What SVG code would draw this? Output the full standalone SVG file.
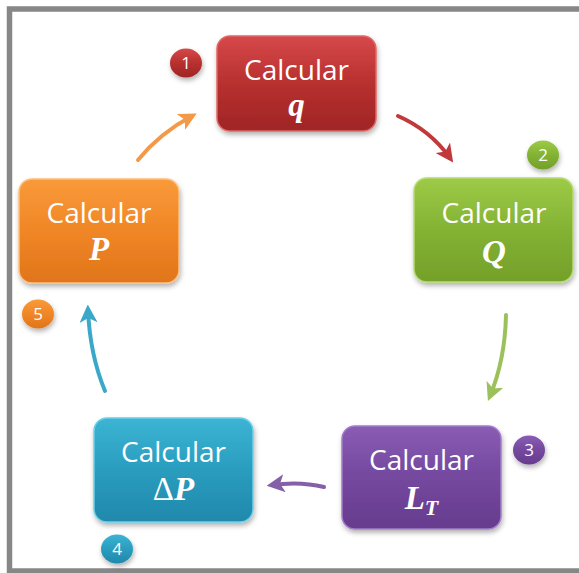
<svg xmlns="http://www.w3.org/2000/svg" width="579" height="573" viewBox="0 0 579 573">
<style>
.lbl{font-family:"Open Sans","Liberation Sans",sans-serif;font-size:28px;fill:#fff;text-anchor:middle}
.var{font-family:"Liberation Serif","DejaVu Serif",serif;font-size:33px;font-weight:bold;font-style:italic;fill:#fff;text-anchor:middle}
.num{font-family:"Open Sans","Liberation Sans",sans-serif;font-size:17px;fill:#fff;text-anchor:middle}
.box{stroke-width:1.5}
.conn{fill:none;stroke-width:4;stroke-linecap:round}
</style>
<defs>
<filter id="sh" x="-20%" y="-20%" width="140%" height="150%">
<feDropShadow dx="1" dy="3" stdDeviation="2.5" flood-color="#000" flood-opacity="0.3"/>
</filter>
<linearGradient id="gR" x1="0" y1="0" x2="0" y2="1"><stop offset="0" stop-color="#d6484a"/><stop offset="0.5" stop-color="#b8302f"/><stop offset="1" stop-color="#a02525"/></linearGradient>
<linearGradient id="gG" x1="0" y1="0" x2="0" y2="1"><stop offset="0" stop-color="#9dcb47"/><stop offset="0.5" stop-color="#83b234"/><stop offset="1" stop-color="#74a02a"/></linearGradient>
<linearGradient id="gP" x1="0" y1="0" x2="0" y2="1"><stop offset="0" stop-color="#8a5cb4"/><stop offset="0.5" stop-color="#74489e"/><stop offset="1" stop-color="#663c8e"/></linearGradient>
<linearGradient id="gB" x1="0" y1="0" x2="0" y2="1"><stop offset="0" stop-color="#3cb4d4"/><stop offset="0.5" stop-color="#2a9dbf"/><stop offset="1" stop-color="#2088ab"/></linearGradient>
<linearGradient id="gO" x1="0" y1="0" x2="0" y2="1"><stop offset="0" stop-color="#f99a3a"/><stop offset="0.5" stop-color="#f08626"/><stop offset="1" stop-color="#e0751a"/></linearGradient>
<marker id="aR" viewBox="0 0 10 10" refX="7" refY="5" markerWidth="4.5" markerHeight="4.5" orient="auto"><path d="M0,0 L10,5 L0,10 L2.5,5 Z" fill="#c0393b"/></marker>
<marker id="aG" viewBox="0 0 10 10" refX="7" refY="5" markerWidth="4.5" markerHeight="4.5" orient="auto"><path d="M0,0 L10,5 L0,10 L2.5,5 Z" fill="#9cc05a"/></marker>
<marker id="aP" viewBox="0 0 10 10" refX="7" refY="5" markerWidth="4.5" markerHeight="4.5" orient="auto"><path d="M0,0 L10,5 L0,10 L2.5,5 Z" fill="#8460a8"/></marker>
<marker id="aB" viewBox="0 0 10 10" refX="7" refY="5" markerWidth="4.5" markerHeight="4.5" orient="auto"><path d="M0,0 L10,5 L0,10 L2.5,5 Z" fill="#3aa8c8"/></marker>
<marker id="aO" viewBox="0 0 10 10" refX="7" refY="5" markerWidth="4.5" markerHeight="4.5" orient="auto"><path d="M0,0 L10,5 L0,10 L2.5,5 Z" fill="#f39a48"/></marker>
</defs>
<rect width="579" height="573" fill="#fff"/>
<rect x="9.5" y="9" width="580" height="562" fill="none" stroke="#878787" stroke-width="5.5"/>

<g id="connectors">
<path class="conn" d="M398,116 Q430,130 450,158" stroke="#c0393b" marker-end="url(#aR)"/>
<path class="conn" d="M506,315 Q505,360 490,396" stroke="#9cc05a" marker-end="url(#aG)"/>
<path class="conn" d="M324,487 Q300,481 272,485" stroke="#8460a8" marker-end="url(#aP)"/>
<path class="conn" d="M105,391 Q90,355 88,310" stroke="#3aa8c8" marker-end="url(#aB)"/>
<path class="conn" d="M138,160 Q160,133 192,116" stroke="#f39a48" marker-end="url(#aO)"/>
</g>

<g id="node1">
<rect class="box" x="217" y="36" width="159" height="95" rx="13" fill="url(#gR)" stroke="#e06868" filter="url(#sh)"/>
<text class="lbl" x="296.5" y="80">Calcular</text>
<text class="var" x="296.5" y="116">q</text>
</g>
<g id="badge1"><ellipse cx="186" cy="63" rx="16" ry="14.5" fill="url(#gR)" filter="url(#sh)"/><text class="num" x="186" y="69">1</text></g>

<g id="node2">
<rect class="box" x="414" y="178" width="159" height="104" rx="13" fill="url(#gG)" stroke="#b4dc70" filter="url(#sh)"/>
<text class="lbl" x="494" y="223">Calcular</text>
<text class="var" x="494" y="263">Q</text>
</g>
<g id="badge2"><ellipse cx="543" cy="155" rx="16" ry="14.5" fill="url(#gG)" filter="url(#sh)"/><text class="num" x="543" y="161">2</text></g>

<g id="node3">
<rect class="box" x="342" y="426" width="159" height="103" rx="13" fill="url(#gP)" stroke="#a27cc8" filter="url(#sh)"/>
<text class="lbl" x="421.5" y="470">Calcular</text>
<text class="var" x="421.5" y="509">L<tspan font-size="22" dy="6">T</tspan></text>
</g>
<g id="badge3"><ellipse cx="529" cy="450" rx="16" ry="14.5" fill="url(#gP)" filter="url(#sh)"/><text class="num" x="529" y="456">3</text></g>

<g id="node4">
<rect class="box" x="94" y="418" width="159" height="104" rx="13" fill="url(#gB)" stroke="#6cd0e8" filter="url(#sh)"/>
<text class="lbl" x="173.5" y="462">Calcular</text>
<text class="var" x="173.5" y="500"><tspan font-style="normal" font-weight="normal">Δ</tspan>P</text>
</g>
<g id="badge4"><ellipse cx="117" cy="549" rx="16" ry="14.5" fill="url(#gB)" filter="url(#sh)"/><text class="num" x="117" y="555">4</text></g>

<g id="node5">
<rect class="box" x="19" y="179" width="160" height="104" rx="13" fill="url(#gO)" stroke="#fcc080" filter="url(#sh)"/>
<text class="lbl" x="99" y="223">Calcular</text>
<text class="var" x="99" y="260">P</text>
</g>
<g id="badge5"><ellipse cx="38" cy="314" rx="16" ry="14.5" fill="url(#gO)" filter="url(#sh)"/><text class="num" x="38" y="320">5</text></g>
</svg>
